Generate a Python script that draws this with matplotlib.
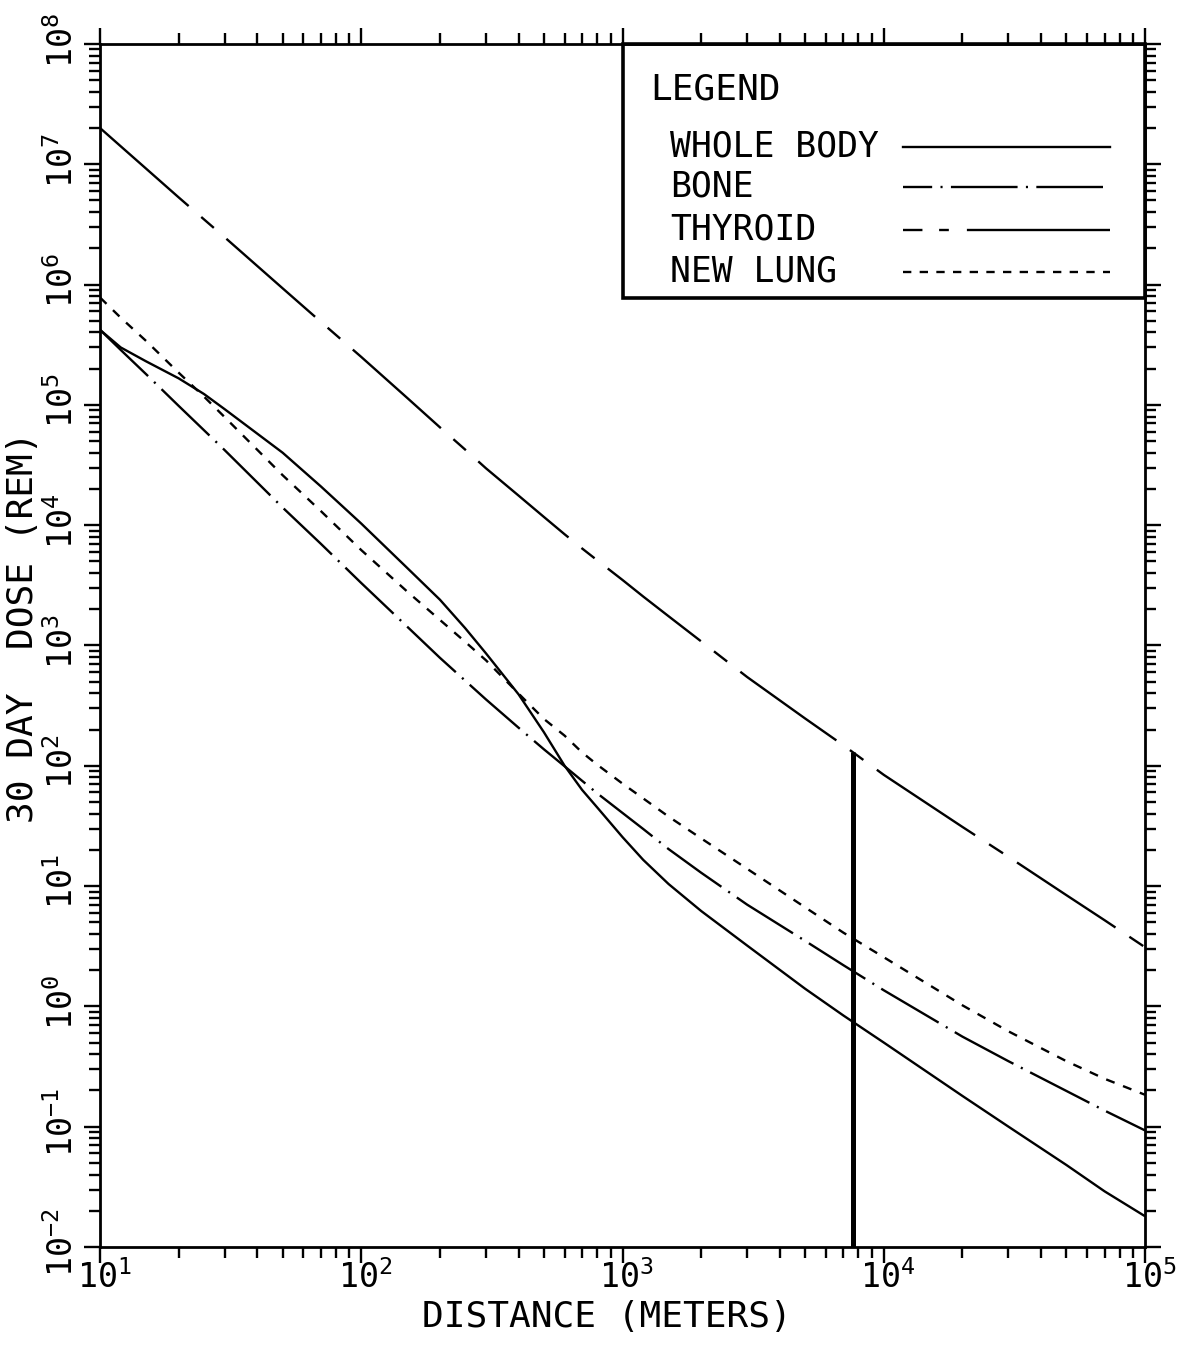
import numpy as np
import matplotlib
matplotlib.use("Agg")
from matplotlib import pyplot as plt
from matplotlib.ticker import LogLocator, FixedLocator, FuncFormatter, NullFormatter
from matplotlib.transforms import ScaledTranslation
from matplotlib.patches import Rectangle
from matplotlib.lines import Line2D

plt.rcParams['font.family'] = ['DejaVu Sans Mono', 'DejaVu Sans']
plt.rcParams['mathtext.fontset'] = 'custom'
plt.rcParams['mathtext.rm'] = 'DejaVu Sans Mono'
plt.rcParams['mathtext.default'] = 'regular'
plt.rcParams['lines.scale_dashes'] = False

# distance from release point (m) and 30 day dose (rem) per organ
distance = [10, 12, 15, 20, 25, 30, 50, 70, 100, 150, 200, 250, 300, 400, 500,
            600, 700, 800, 1000, 1200, 1500, 2000, 3000, 5000, 7000, 10000,
            20000, 30000, 50000, 70000, 100000]
whole_body = [4.2e5, 3.0e5, 2.3e5, 1.66e5, 1.23e5, 9.2e4, 4.0e4, 2.1e4, 1.03e4,
              4.4e3, 2.4e3, 1.39e3, 860, 392, 190, 100, 63, 45, 25.5, 16.5,
              10.4, 6.2, 3.2, 1.4, 0.84, 0.50, 0.18, 0.10, 0.048, 0.029, 0.018]
bone = [4.2e5, 2.86e5, 1.8e5, 9.8e4, 6.15e4, 4.2e4, 1.4e4, 7.0e3, 3.3e3,
        1.43e3, 789, 509, 356, 207, 137, 99, 75, 59, 40.5, 29.8, 20.3, 12.9,
        7.0, 3.5, 2.2, 1.36, 0.56, 0.35, 0.198, 0.136, 0.093]
thyroid = [2.0e7, 1.41e7, 9.2e6, 5.3e6, 3.48e6, 2.47e6, 9.3e5, 4.9e5, 2.5e5,
           1.14e5, 6.5e4, 4.24e4, 2.97e4, 1.76e4, 1.17e4, 8.4e3, 6.4e3, 5.1e3,
           3.5e3, 2.55e3, 1.75e3, 1.08e3, 546, 247, 148, 84, 31, 17.5, 8.4,
           5.2, 3.1]
new_lung = [7.8e5, 5.3e5, 3.4e5, 1.85e5, 1.17e5, 7.9e4, 2.6e4, 1.31e4, 6.2e3,
            2.8e3, 1.63e3, 1.07e3, 753, 398, 245, 178, 129, 102, 71, 53.5,
            37.8, 24.9, 13.9, 6.65, 4.1, 2.56, 1.02, 0.62, 0.35, 0.25, 0.184]
site_boundary = 7600

series_labels = ['WHOLE BODY', 'BONE', 'THYROID', 'NEW LUNG']
# dash patterns in points: solid, long-dot, long-short, short dashes
series_styles = ['-', (0, (48, 6, 1.5, 6)), (0, (85, 12, 12, 12)), (0, (6.5, 6.5))]
legend_styles = ['-', (27, (48, 6, 1.5, 6)), (0, (14, 12, 7, 13, 200, 10)),
                 (0, (6, 6))]

fig = plt.figure(figsize=(11.84, 13.52), dpi=100)
ax = fig.add_axes([0.0845, 0.0777, 0.8826, 0.8898])
ax.set_xscale('log')
ax.set_yscale('log')
ax.set_xlim(1e1, 1e5)
ax.set_ylim(1e-2, 1e8)

for y, style in zip([whole_body, bone, thyroid, new_lung], series_styles):
    ax.plot(distance, y, color='black', lw=1.7, linestyle=style,
            solid_capstyle='butt')

# site boundary line up to the thyroid curve
top = 10 ** np.interp(np.log10(site_boundary), np.log10(distance), np.log10(thyroid))
ax.plot([site_boundary, site_boundary], [ax.get_ylim()[0], top], color='black',
        lw=3.6, solid_capstyle='butt', clip_on=False)

for axis, lims in ((ax.xaxis, ax.get_xlim()), (ax.yaxis, ax.get_ylim())):
    decades = np.arange(round(np.log10(lims[0])), round(np.log10(lims[1])) + 1)
    axis.set_major_locator(FixedLocator(10.0 ** decades))
    axis.set_minor_locator(LogLocator(base=10, subs=np.arange(2, 10), numticks=100))
    axis.set_minor_formatter(NullFormatter())
    axis.set_major_formatter(FuncFormatter(lambda v, pos: r'$10^{%d}$' % round(np.log10(v))))

for s in ax.spines.values():
    s.set_linewidth(2.0)
ax.tick_params(which='both', direction='out', top=True, right=True,
               width=1.7, color='black')
ax.tick_params(which='major', length=11.5)
ax.tick_params(which='minor', length=8)
ax.tick_params(axis='x', labelsize=24, pad=-2)
ax.tick_params(axis='y', labelsize=24, pad=3, labelrotation=90)
plt.setp(ax.get_yticklabels(), va='center')
for lbl in ax.get_xticklabels():
    lbl.set_transform(lbl.get_transform() + ScaledTranslation(4 / 100, 0, fig.dpi_scale_trans))
for lbl in ax.get_yticklabels():
    lbl.set_transform(lbl.get_transform() + ScaledTranslation(0, 4 / 100, fig.dpi_scale_trans))

ax.set_xlabel('DISTANCE (METERS)', fontsize=26)
ax.xaxis.set_label_coords(0.485, -0.044)
ax.set_ylabel('30 DAY  DOSE (REM)', fontsize=26)
ax.yaxis.set_label_coords(-0.057, 0.515)

# legend box in the upper right corner
ax.add_patch(Rectangle((0.5005, 0.7889), 0.4995, 0.2111, transform=ax.transAxes,
                       fill=False, ec='black', lw=2.6, zorder=5, clip_on=False))
ax.text(0.5263, 0.9618, 'LEGEND', transform=ax.transAxes, fontsize=26,
        ha='left', va='center')
for label, style, ypos in zip(series_labels, legend_styles,
                              [0.9144, 0.8811, 0.8454, 0.8105]):
    ax.text(0.5455, ypos, label, transform=ax.transAxes, fontsize=25,
            ha='left', va='center')
    ax.add_line(Line2D([0.7684, 0.9665], [ypos, ypos], transform=ax.transAxes,
                       color='black', lw=1.7, linestyle=style))

fig.savefig('out.png', dpi=100, facecolor='white')
